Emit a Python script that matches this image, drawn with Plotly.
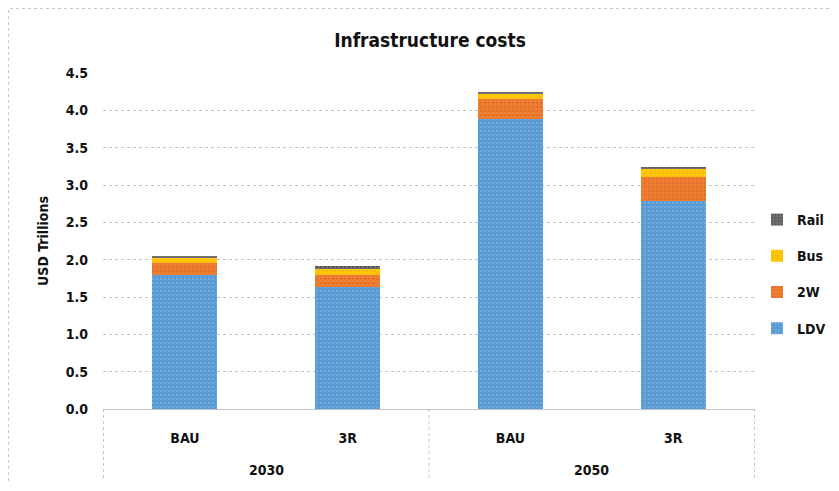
import plotly.graph_objects as go

years = ["2030", "2030", "2050", "2050"]
scenarios = ["BAU", "3R", "BAU", "3R"]
year_labels = ["2030", "2050"]

ldv = [1.80, 1.64, 3.89, 2.78]
two_w = [0.16, 0.16, 0.26, 0.33]
bus = [0.06, 0.08, 0.07, 0.10]
rail = [0.03, 0.03, 0.03, 0.03]

series = [
    ("LDV", ldv, "#5B9BD5", "#8FC3EE"),
    ("2W", two_w, "#ED7D31", "#D9531E"),
    ("Bus", bus, "#FFC000", "#FFD54A"),
    ("Rail", rail, "#6E6E6E", "#2E2E2E"),
]

font = "Liberation Sans Narrow, DejaVu Sans Condensed, Arial Narrow, Arial, sans-serif"
cats = [f"{y} {s}" for y, s in zip(years, scenarios)]

# page body has an 8px margin, so the figure is sized to fit inside it
W, H = 823, 475
L, R, T, B = 95, 76, 65, 74
PW, PH = W - L - R, H - T - B

fig = go.Figure()
for rank, (name, vals, col, dot) in enumerate(series):
    fig.add_trace(
        go.Bar(
            x=cats,
            y=vals,
            name=name,
            legendgroup=name,
            legendrank=100 - rank,
            marker=dict(
                color=col,
                line=dict(width=0),
                pattern=dict(shape=".", fgcolor=dot, size=4, solidity=0.2),
            ),
            width=0.4,
        )
    )

fig.update_layout(
    barmode="stack",
    width=W,
    height=H,
    paper_bgcolor="white",
    plot_bgcolor="white",
    margin=dict(l=L, r=R, t=T, b=B),
    title=dict(
        text="Infrastructure costs",
        x=(430 - 8) / W,
        xanchor="center",
        y=1 - (40 - 8) / H,
        yanchor="middle",
        font=dict(family=font, size=19, color="#111", weight="bold"),
    ),
    font=dict(family=font, size=13, color="#111"),
    legend=dict(
        x=749 / W,
        y=1 - (274 - 8) / H,
        xref="container",
        yref="container",
        xanchor="left",
        yanchor="middle",
        traceorder="grouped",
        tracegroupgap=15,
        font=dict(family=font, size=14, color="#111", weight="bold"),
        itemwidth=30,
    ),
    showlegend=True,
)

fig.update_yaxes(
    range=[0, 4.5],
    dtick=0.5,
    tickformat=".1f",
    showgrid=True,
    gridcolor="#C4C4C4",
    griddash="dot",
    gridwidth=1,
    zeroline=False,
    ticks="",
    automargin=False,
    tickfont=dict(family=font, size=14, color="#111", weight="bold"),
    ticklabelstandoff=14,
    title=dict(text="USD Trillions", font=dict(family=font, size=14, color="#111", weight="bold"), standoff=13),
)
fig.update_xaxes(
    type="category",
    tickvals=cats,
    ticktext=scenarios,
    showline=True,
    linecolor="#C4C4C4",
    ticks="",
    automargin=False,
    ticklabelstandoff=16,
    tickfont=dict(family=font, size=14, color="#111", weight="bold"),
)

# year labels under the scenario labels
for i, yl in enumerate(year_labels):
    fig.add_annotation(
        x=2 * i + 0.5, xref="x", y=-61 / PH, yref="paper", yanchor="middle",
        text=yl, showarrow=False,
        font=dict(family=font, size=14, color="#111", weight="bold"),
    )

shapes = [
    dict(type="rect", xref="paper", yref="paper",
         x0=-(L - 0.5) / PW, x1=(W + 5 - L) / PW,
         y0=-(B + 5) / PH, y1=(PH + T - 0.5) / PH,
         line=dict(color="#C8C8C8", width=1, dash="dot"), layer="below"),
]
for xv in [-0.5, 1.5, 3.5]:
    shapes.append(dict(type="line", xref="x", yref="paper", x0=xv, x1=xv,
                       y0=0, y1=-(B - 2) / PH,
                       line=dict(color="#C4C4C4", width=1, dash="dot")))
fig.update_layout(shapes=shapes)

fig.write_html("out.html")
